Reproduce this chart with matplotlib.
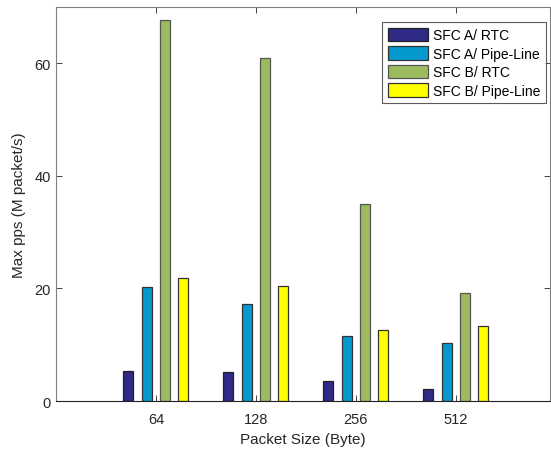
import numpy as np
import matplotlib
matplotlib.use("Agg")
import matplotlib.pyplot as plt

plt.rcParams['font.family'] = ['Liberation Sans', 'DejaVu Sans']

# data
packet_sizes = ["64", "128", "256", "512"]
sfc_a_rtc = [5.4, 5.2, 3.5, 2.1]
sfc_a_pipe = [20.2, 17.2, 11.6, 10.3]
sfc_b_rtc = [67.8, 60.9, 35.1, 19.2]
sfc_b_pipe = [21.8, 20.4, 12.6, 13.4]

series = [sfc_a_rtc, sfc_a_pipe, sfc_b_rtc, sfc_b_pipe]
labels = ["SFC A/ RTC", "SFC A/ Pipe-Line", "SFC B/ RTC", "SFC B/ Pipe-Line"]
colors = ["#2e2a86", "#0599cf", "#9bbb5e", "#ffff00"]
edges = ["#222222", "#333333", "#555555", "#333333"]

fig = plt.figure(figsize=(5.51, 4.52), dpi=100)
ax = fig.add_axes([0.1016, 0.1106, 0.8964, 0.8714])

x = np.arange(1, len(packet_sizes) + 1)
offsets = [-0.277, -0.093, 0.09, 0.272]
for vals, lab, c, ec, off in zip(series, labels, colors, edges, offsets):
    ax.bar(x + off, vals, width=0.1, color=c, edgecolor=ec, linewidth=0.9, label=lab)

ax.set_xlim(0, 4.94)
ax.set_ylim(0, 70)
ax.set_xticks(x)
ax.set_xticklabels(packet_sizes)
ax.set_yticks([0, 20, 40, 60])
ax.tick_params(direction="in", length=4, labelsize=10.5, colors="#262626",
               top=True, right=True, width=0.6)
ax.tick_params(axis="x", pad=8)

for side in ["left", "top", "right"]:
    ax.spines[side].set_color("#808080")
ax.spines["bottom"].set_color("#222222")
for s in ax.spines.values():
    s.set_linewidth(0.8)

ax.set_xlabel("Packet Size (Byte)", fontsize=11, color="#262626", labelpad=4)
ax.set_ylabel("Max pps (M packet/s)", fontsize=11, color="#262626", labelpad=6)

leg = ax.legend(loc="upper right", fontsize=10, frameon=True, fancybox=False,
                edgecolor="#333333", handlelength=2.9, handleheight=1.15,
                handletextpad=0.35, borderpad=0.4, labelspacing=0.28,
                borderaxespad=0.0, bbox_to_anchor=(0.992, 0.962))
leg.get_frame().set_linewidth(0.8)

fig.savefig("out.png", dpi=100)
